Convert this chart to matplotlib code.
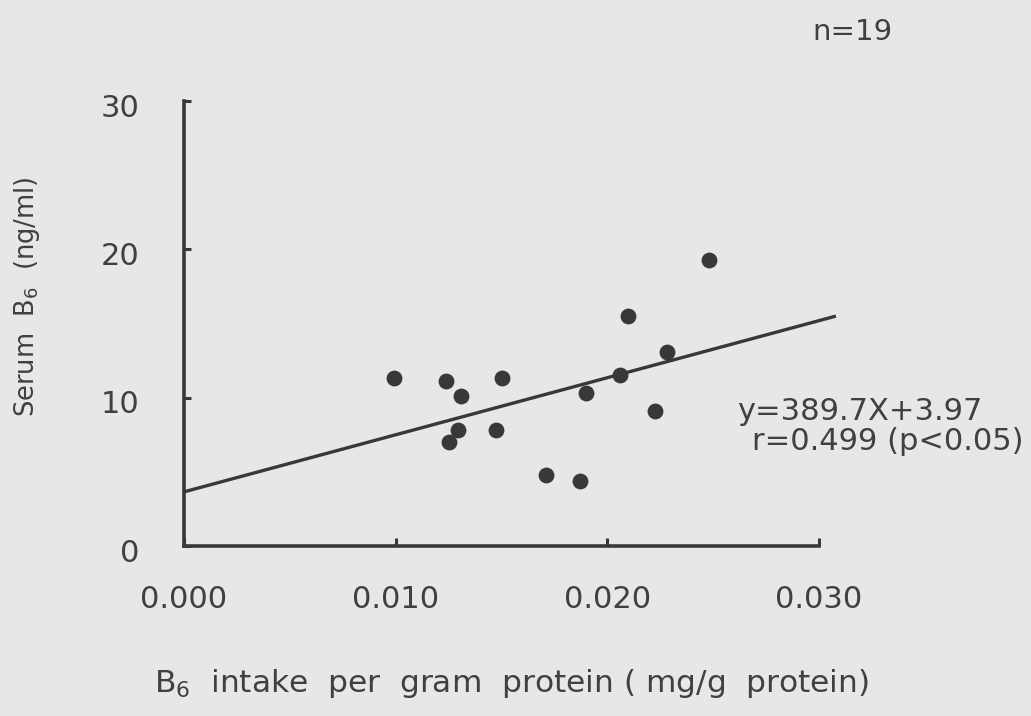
import matplotlib
matplotlib.use("Agg")
import matplotlib.pyplot as plt
import matplotlib.transforms as mtransforms
import numpy as np

# Data
intake = [0.0099, 0.01237, 0.01501, 0.01307, 0.01295, 0.01475, 0.01252,
          0.01709, 0.01870, 0.01897, 0.02059, 0.02224, 0.02280, 0.02099, 0.02482]
serum = [11.3, 11.1, 11.3, 10.1, 7.8, 7.8, 7.0,
         4.8, 4.4, 10.3, 11.5, 9.1, 13.1, 15.5, 19.3]
# regression line as drawn in the figure (endpoints)
line_x = [0.0, 0.0308]
line_y = [3.65, 15.5]
xticks = [0.000, 0.010, 0.020, 0.030]
xticklabels = ["0.000", "0.010", "0.020", "0.030"]
yticks = [0, 10, 20, 30]
yticklabels = ["0", "10", "20", "30"]

bg = "#e7e7e7"
ink = "#404040"
dot = "#383838"

plt.rcParams['font.family'] = ['DejaVu Sans']
W, H = 1031, 716
fig = plt.figure(figsize=(W / 100, H / 100), dpi=100, facecolor=bg)
ax = fig.add_axes([184 / W, 1 - 546 / H, (819 - 184) / W, (546 - 101) / H])
ax.set_facecolor(bg)

ax.scatter(intake, serum, s=130, color=dot, zorder=3, linewidths=0)
ax.plot(line_x, line_y, color=dot, lw=2.4, clip_on=False, zorder=2,
        solid_capstyle='butt')

ax.set_xlim(0, 0.030)
ax.set_ylim(0, 30)
for s in ["top", "right"]:
    ax.spines[s].set_visible(False)
for s in ["left", "bottom"]:
    ax.spines[s].set_color(dot)
    ax.spines[s].set_linewidth(2.6)

ax.set_xticks(xticks)
ax.set_xticklabels(xticklabels)
ax.set_yticks(yticks)
ax.set_yticklabels(yticklabels)
ax.tick_params(axis='x', direction='in', length=6, width=2.2, color=dot,
               labelsize=22, labelcolor=ink, pad=28)
ax.tick_params(axis='y', direction='in', length=5, width=2.2, color=dot,
               labelsize=22, labelcolor=ink, pad=32)
off = mtransforms.ScaledTranslation(0, -3 / 72, fig.dpi_scale_trans)
for lab in ax.get_yticklabels():
    lab.set_transform(lab.get_transform() + off)

fig.text(27 / W, 1 - 297 / H, r"Serum  B$_6$  (ng/ml)", rotation=90,
         ha='center', va='center', fontsize=18.5, color=ink)
fig.text(511 / W, 1 - 683 / H, r"B$_6$  intake  per  gram  protein ( mg/g  protein)",
         ha='center', va='center', fontsize=22.5, color=ink)
fig.text(852 / W, 1 - 32 / H, "n=19", ha='center', va='center', fontsize=21, color=ink)
fig.text(737 / W, 1 - 411 / H, "y=389.7X+3.97", ha='left', va='center',
         fontsize=22, color=ink)
fig.text(752 / W, 1 - 441 / H, "r=0.499 (p<0.05)", ha='left', va='center',
         fontsize=22, color=ink)

fig.savefig("out.png", dpi=100, facecolor=bg)
